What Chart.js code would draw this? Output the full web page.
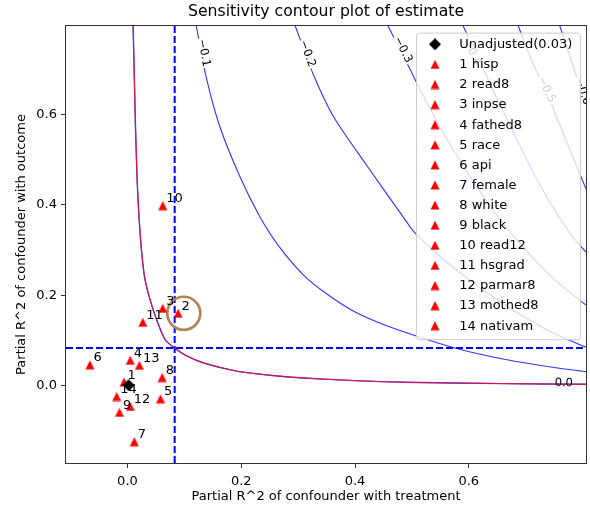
<!DOCTYPE html>
<html>
<head>
<meta charset="utf-8">
<script src="https://cdn.jsdelivr.net/npm/chart.js@4.4.1/dist/chart.umd.min.js"></script>
<style>
  html, body { margin: 0; padding: 0; background: #fff; }
  #wrap { width: 590px; height: 508px; }
</style>
</head>
<body>
<div id="wrap"><canvas id="chart" width="590" height="508"></canvas></div>
<script>
// benchmark covariates: partial R^2 with treatment (x) and with outcome (y)
const varNames = ['hisp', 'read8', 'inpse', 'fathed8', 'race', 'api', 'female',
  'white', 'black', 'read12', 'hsgrad', 'parmar8', 'mothed8', 'nativam'];
const r2Treatment = [-0.006, 0.089, 0.062, 0.005, 0.058, -0.066, 0.012,
  0.061, -0.014, 0.062, 0.027, 0.005, 0.021, -0.019];
const r2Outcome = [0.008, 0.160, 0.171, 0.056, -0.029, 0.046, -0.124,
  0.018, -0.059, 0.398, 0.140, -0.046, 0.045, -0.024];

const unadjLabel = 'Unadjusted(0.03)';
const unadjPoint = [0.002, 0.001];

// dashed reference lines (x, y) and the highlighted covariate ring
const refLines = [0.083, 0.083];
const ringPoint = [0.099, 0.160];

// contour levels and the curves
const contourLevels = [0.0, -0.1, -0.2, -0.3, -0.4, -0.5, -0.6];
const curve00 = [[0.010, 0.795], [0.0125, 0.66], [0.0141, 0.574], [0.018, 0.427], [0.024, 0.309],
  [0.031, 0.234], [0.046, 0.165], [0.066, 0.102], [0.083, 0.083], [0.105, 0.065], [0.134, 0.050],
  [0.192, 0.032], [0.25, 0.023], [0.309, 0.017], [0.40, 0.011], [0.485, 0.0075], [0.661, 0.0045],
  [0.806, 0.003]];
const curve01 = [[0.121, 0.795], [0.138, 0.684], [0.162, 0.574], [0.197, 0.464], [0.232, 0.375],
  [0.265, 0.310], [0.309, 0.245], [0.35, 0.203], [0.397, 0.165], [0.45, 0.135], [0.514, 0.107],
  [0.579, 0.082], [0.64, 0.064], [0.70, 0.050], [0.75, 0.040], [0.806, 0.031]];
const curve02 = [[0.295, 0.795], [0.326, 0.69], [0.362, 0.595], [0.421, 0.486], [0.479, 0.383],
  [0.505, 0.338], [0.55, 0.285], [0.60, 0.235], [0.65, 0.19], [0.70, 0.15], [0.75, 0.115],
  [0.806, 0.085]];
const curve03 = [[0.458, 0.795], [0.497, 0.699], [0.509, 0.668], [0.55, 0.57], [0.60, 0.467],
  [0.65, 0.375], [0.70, 0.30], [0.75, 0.235], [0.806, 0.178]];
const curve04 = [[0.59, 0.795], [0.615, 0.73], [0.64, 0.66], [0.69, 0.53], [0.72, 0.455],
  [0.75, 0.39], [0.78, 0.333], [0.806, 0.295]];
const curve05 = [[0.687, 0.795], [0.71, 0.72], [0.737, 0.648], [0.77, 0.545], [0.806, 0.435]];
const curve06 = [[0.76, 0.795], [0.785, 0.70], [0.806, 0.625]];
const contourCurves = [curve00, curve01, curve02, curve03, curve04, curve05, curve06];

const xTicks = [0, 0.2, 0.4, 0.6];
const yTicks = [0, 0.2, 0.4, 0.6];
const xRange = [-0.108, 0.806];
const yRange = [-0.171, 0.795];

const titleText = 'Sensitivity contour plot of estimate';

// where the inline contour labels sit (text placement, not data)
const labelSpots = [[0.767, 0.0066], [0.135, 0.736], [0.317, 0.734], [0.485, 0.743],
  [0.606, 0.737], [0.737, 0.655], [0.801, 0.651]];

const FONT = "'DejaVu Sans', sans-serif";
Chart.defaults.font.family = FONT;
Chart.defaults.font.size = 13;
Chart.defaults.color = '#000';

// matplotlib-like markers
function makeTriangle(color, size) {
  const c = document.createElement('canvas');
  c.width = c.height = size;
  const g = c.getContext('2d');
  g.fillStyle = color;
  g.beginPath();
  g.moveTo(size / 2, 0.5);
  g.lineTo(size - 0.5, size - 0.5);
  g.lineTo(0.5, size - 0.5);
  g.closePath();
  g.fill();
  return c;
}
function makeDiamond(color, size) {
  const c = document.createElement('canvas');
  c.width = c.height = size;
  const g = c.getContext('2d');
  g.fillStyle = color;
  g.beginPath();
  g.moveTo(size / 2, 0);
  g.lineTo(size, size / 2);
  g.lineTo(size / 2, size);
  g.lineTo(0, size / 2);
  g.closePath();
  g.fill();
  return c;
}
const redTri = makeTriangle('#ff0000', 10);
const blackDiamond = makeDiamond('#000000', 12);

const toXY = pts => pts.map(p => ({ x: p[0], y: p[1] }));

const pointSets = varNames.map((name, i) => ({
  label: (i + 1) + ' ' + name,
  tag: String(i + 1),
  inLegend: true,
  data: [{ x: r2Treatment[i], y: r2Outcome[i] }],
  pointStyle: redTri,
  pointRadius: 5,
  order: 1,
}));

const contourSets = contourCurves.map((pts, i) => ({
  label: 'level ' + contourLevels[i],
  data: toXY(pts),
  showLine: true,
  borderColor: 'rgb(50,50,255)',
  borderWidth: i === 0 ? 1.4 : 1.1,
  pointRadius: 0,
  tension: 0.25,
  order: 6,
}));

const datasets = [
  {
    label: unadjLabel,
    inLegend: true,
    data: [{ x: unadjPoint[0], y: unadjPoint[1] }],
    pointStyle: blackDiamond,
    pointRadius: 6,
    order: 0,
  },
  ...pointSets,
  {
    label: 'ring',
    data: [{ x: ringPoint[0], y: ringPoint[1] }],
    pointStyle: 'circle',
    pointRadius: 16.5,
    borderColor: '#ad8654',
    borderWidth: 2.7,
    backgroundColor: 'rgba(0,0,0,0)',
    order: 2,
  },
  {
    label: 'zero line',
    data: toXY(curve00),
    showLine: true,
    borderColor: '#ff1020',
    borderWidth: 0.9,
    pointRadius: 0,
    tension: 0.25,
    order: 3,
  },
  {
    label: 'ref x',
    data: [{ x: refLines[0], y: yRange[0] }, { x: refLines[0], y: yRange[1] }],
    showLine: true,
    borderColor: '#0000ff',
    borderWidth: 2,
    borderDash: [7, 3],
    pointRadius: 0,
    order: 4,
  },
  {
    label: 'ref y',
    data: [{ x: xRange[0], y: refLines[1] }, { x: xRange[1], y: refLines[1] }],
    showLine: true,
    borderColor: '#0000ff',
    borderWidth: 2,
    borderDash: [7, 3],
    pointRadius: 0,
    order: 4,
  },
  ...contourSets,
];

function levelText(v) {
  return v === 0 ? '0.0' : '\u2212' + Math.abs(v).toFixed(1);
}

function segmentAngle(pts, px, py, xs, ys) {
  let best = null, bestD = Infinity;
  for (let i = 0; i < pts.length - 1; i++) {
    const ax = xs.getPixelForValue(pts[i][0]), ay = ys.getPixelForValue(pts[i][1]);
    const bx = xs.getPixelForValue(pts[i + 1][0]), by = ys.getPixelForValue(pts[i + 1][1]);
    const d = ((ax + bx) / 2 - px) ** 2 + ((ay + by) / 2 - py) ** 2;
    if (d < bestD) { bestD = d; best = [ax, ay, bx, by]; }
  }
  return Math.atan2(best[3] - best[1], best[2] - best[0]);
}

const overlayPlugin = {
  id: 'overlay',
  afterDatasetsDraw(chart) {
    const { ctx, chartArea: a } = chart;
    const xs = chart.scales.x, ys = chart.scales.y;

    // inline contour labels
    ctx.save();
    ctx.beginPath();
    ctx.rect(a.left, a.top, a.right - a.left, a.bottom - a.top);
    ctx.clip();
    ctx.font = '11.5px ' + FONT;
    ctx.textAlign = 'center';
    ctx.textBaseline = 'middle';
    contourCurves.forEach((pts, i) => {
      const px = xs.getPixelForValue(labelSpots[i][0]);
      const py = ys.getPixelForValue(labelSpots[i][1]);
      const ang = segmentAngle(pts, px, py, xs, ys);
      const text = levelText(contourLevels[i]);
      ctx.save();
      ctx.translate(px, py);
      ctx.rotate(ang);
      const w = ctx.measureText(text).width;
      if (i > 0) {
        ctx.fillStyle = '#fff';
        ctx.fillRect(-w / 2 - 1, -4, w + 2, 8);
      }
      ctx.fillStyle = '#000';
      ctx.fillText(text, 0, 0.5);
      ctx.restore();
    });
    ctx.restore();

    // covariate numbers next to each marker
    ctx.save();
    ctx.font = '13px ' + FONT;
    ctx.fillStyle = '#000';
    ctx.textAlign = 'left';
    ctx.textBaseline = 'alphabetic';
    chart.data.datasets.forEach((ds, i) => {
      if (!ds.tag) return;
      const el = chart.getDatasetMeta(i).data[0];
      ctx.fillText(ds.tag, el.x + 3.5, el.y - 3.5);
    });
    ctx.restore();

    // axes frame
    ctx.save();
    ctx.strokeStyle = '#333';
    ctx.lineWidth = 1;
    ctx.strokeRect(a.left - 0.5, a.top - 0.5, a.right - a.left + 1, a.bottom - a.top + 1);
    ctx.restore();
  },
  afterDraw(chart) {
    const { ctx, chartArea: a } = chart;

    // title centred over the axes, like matplotlib
    ctx.save();
    ctx.font = '15.7px ' + FONT;
    ctx.fillStyle = '#000';
    ctx.textAlign = 'center';
    ctx.textBaseline = 'middle';
    ctx.fillText(titleText, (a.left + a.right) / 2, 12.4);
    ctx.restore();

    // legend box inside the axes
    const items = chart.data.datasets.filter(d => d.inLegend);
    const left = a.right - 170, top = a.top + 6.6, w = 164, h = 306.6;
    ctx.save();
    ctx.beginPath();
    ctx.roundRect(left + 0.5, top + 0.5, w, h, 3);
    ctx.fillStyle = 'rgba(255,255,255,0.8)';
    ctx.fill();
    ctx.strokeStyle = '#cccccc';
    ctx.lineWidth = 1;
    ctx.stroke();
    ctx.font = '13px ' + FONT;
    ctx.fillStyle = '#000';
    ctx.textAlign = 'left';
    ctx.textBaseline = 'middle';
    items.forEach((d, i) => {
      const cy = top + 11.7 + i * 20.1;
      const img = d.pointStyle;
      ctx.drawImage(img, left + 19 - img.width / 2, cy - img.height / 2);
      ctx.fillText(d.label, left + 43.3, cy + 0.5);
    });
    ctx.restore();
  },
};

const axisCommon = {
  type: 'linear',
  grid: { display: true, drawOnChartArea: false, drawTicks: true, tickLength: 5, tickColor: '#333', lineWidth: 1 },
  border: { display: false },
};

new Chart(document.getElementById('chart'), {
  type: 'scatter',
  data: { datasets },
  options: {
    responsive: false,
    animation: false,
    events: [],
    layout: { autoPadding: false, padding: { left: 0, right: 4, top: 26, bottom: 0 } },
    plugins: {
      legend: { display: false },
      tooltip: { enabled: false },
      title: { display: false },
    },
    scales: {
      x: {
        ...axisCommon,
        min: xRange[0],
        max: xRange[1],
        afterBuildTicks: s => { s.ticks = xTicks.map(v => ({ value: v })); },
        afterFit: s => { s.height = 45; s.paddingLeft = 0; s.paddingRight = 0; },
        ticks: { padding: 5.5, color: '#000', callback: v => Number(v).toFixed(1), maxRotation: 0 },
        title: {
          display: true,
          text: 'Partial R^2 of confounder with treatment',
          color: '#000',
          font: { size: 13 },
          padding: { top: 0, bottom: 3.5 },
        },
      },
      y: {
        ...axisCommon,
        min: yRange[0],
        max: yRange[1],
        afterBuildTicks: s => { s.ticks = yTicks.map(v => ({ value: v })); },
        afterFit: s => { s.width = 66; s.paddingTop = 0; s.paddingBottom = 0; },
        ticks: { padding: 4, color: '#000', callback: v => Number(v).toFixed(1) },
        title: {
          display: true,
          text: 'Partial R^2 of confounder with outcome',
          color: '#000',
          font: { size: 13 },
          padding: { top: 14.2, bottom: 0 },
        },
      },
    },
  },
  plugins: [overlayPlugin],
});
</script>
</body>
</html>
